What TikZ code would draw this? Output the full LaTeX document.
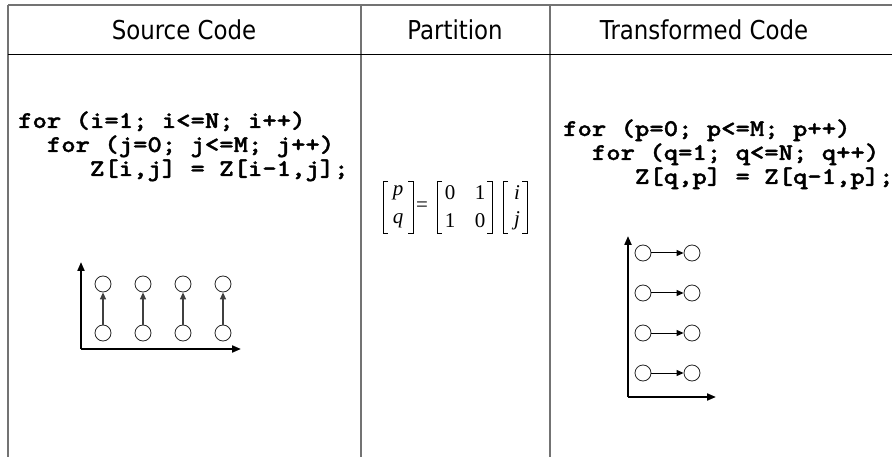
\documentclass[tikz,border=0pt]{standalone}
\usepackage{fontspec}
\usepackage{graphicx}
\newfontfamily\hdrfont[FakeStretch=0.88]{DejaVu Sans}
\newfontfamily\mathfont{Liberation Serif}
\newfontfamily\codefont[FakeBold=1.4]{lmmonolt10-bold.otf}
\usetikzlibrary{arrows.meta}
% one line of bold typewriter code, widened to Courier proportions
\newcommand\codeline[1]{\scalebox{1.14}[1]{\codefont\fontsize{24}{25}\selectfont #1}}

\begin{document}
\begin{tikzpicture}[x=1pt,y=-1pt,
  header/.style={font=\hdrfont\fontsize{26}{30}\selectfont, inner sep=0pt, anchor=base},
  code/.style={anchor=base west, inner sep=0pt},
  entry/.style={font=\mathfont\fontsize{21}{22}\selectfont, inner sep=0pt},
  rule/.style={draw=gray!90!black, line width=1.5pt},
  hrule/.style={draw=black, line width=0.8pt},
  bracket/.style={draw=black, line width=0.8pt},
  vtx/.style={circle, draw=black!85, line width=0.8pt, minimum size=16pt, inner sep=0pt},
  dep/.style={-{Triangle[length=7pt,width=6pt]}, line width=1pt},
  axis/.style={-{Triangle[length=9pt,width=7pt]}, line width=2pt}]

\useasboundingbox (0,0) rectangle (892,457);

% table frame
\draw[rule] (8,5) -- (892,5);
\draw[rule] (8,5) -- (8,457);
\draw[rule] (361,5) -- (361,457);
\draw[rule] (550,5) -- (550,457);
\draw[hrule] (8,54) -- (892,54);

% column headings
\node[header] (h1) at (184,40) {Source Code};
\node[header] (h2) at (455,40) {Partition};
\node[header] (h3) at (704,40) {Transformed Code};

% source loop nest
\node[code] (s1) at (18,128) {\codeline{for (i=1; i<=N; i++)}};
\node[code] (s2) at (18,152) {\codeline{\ \ for (j=0; j<=M; j++)}};
\node[code] (s3) at (18,176) {\codeline{\ \ \ \ \ Z[i,j] = Z[i-1,j];}};

% transformed loop nest
\node[code] (t1) at (563,136) {\codeline{for (p=0; p<=M; p++)}};
\node[code] (t2) at (563,160) {\codeline{\ \ for (q=1; q<=N; q++)}};
\node[code] (t3) at (563,184) {\codeline{\ \ \ \ \ Z[q,p] = Z[q-1,p];}};

% partition: (p,q)^T = [[0,1],[1,0]] (i,j)^T
\node[entry] (mp) at (398,193) {\itshape p};
\node[entry] (mq) at (398,221) {\itshape q};
\node[entry] (meq) at (422,207) {=};
\node[entry] (a11) at (450,193) {0};
\node[entry] (a12) at (480,193) {1};
\node[entry] (a21) at (450,221) {1};
\node[entry] (a22) at (480,221) {0};
\node[entry] (mi) at (517,193) {\itshape i};
\node[entry] (mj) at (517,221) {\itshape j};
\foreach \l/\r in {383/413, 437/492, 503/527} {
  \draw[bracket] (\l+5,181) -- (\l,181) -- (\l,233) -- (\l+5,233);
  \draw[bracket] (\r-5,181) -- (\r,181) -- (\r,233) -- (\r-5,233);
}

% source iteration space
\coordinate (so) at (81,349);
\coordinate (sy) at (81,262);
\coordinate (sx) at (241,349);
\draw[axis] (so) -- (sy);
\draw[axis] (so) -- (sx);
\foreach \k/\x in {1/103, 2/143, 3/183, 4/223} {
  \node[vtx] (sb\k) at (\x,333) {};
  \node[vtx] (st\k) at (\x,284) {};
  \draw[dep, draw=black!75, line width=1.3pt] (sb\k) -- (st\k);
}

% transformed iteration space
\coordinate (to) at (628,397);
\coordinate (ty) at (628,236);
\coordinate (tx) at (716,397);
\draw[axis] (to) -- (ty);
\draw[axis] (to) -- (tx);
\foreach \k/\y in {1/253, 2/293, 3/333, 4/373} {
  \node[vtx] (tl\k) at (643,\y) {};
  \node[vtx] (tr\k) at (692,\y) {};
  \draw[dep] (tl\k) -- (tr\k);
}
\end{tikzpicture}
\end{document}
